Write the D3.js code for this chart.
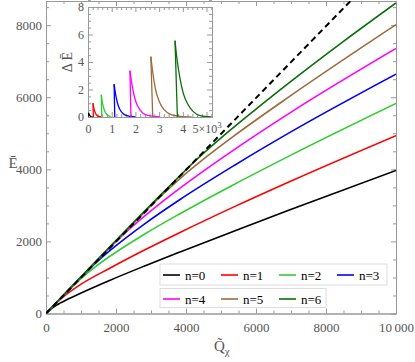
<!DOCTYPE html>
<html>
<head>
<meta charset="utf-8">
<script src="https://cdn.jsdelivr.net/npm/d3@7"></script>
<style>
  body { margin: 0; background: #fff; }
  text { font-family: "Liberation Serif", "Times New Roman", serif; }
</style>
</head>
<body>
<svg id="chart" width="415" height="362"></svg>
<script>
// main curves, [Q, E]
var n0 = [[0,0],[50,50],[200,167],[400,287],[895,520],[1848,930],[2800,1311],[3829,1707],[5400,2296],[6971,2877],[10000,3967]];
var n1 = [[0,0],[210,210],[450,426],[895,746],[1848,1270],[2800,1755],[3829,2249],[5400,2972],[6971,3663],[10000,4935]];
var n2 = [[0,0],[560,560],[1000,969],[1400,1289],[1848,1603],[2800,2193],[3829,2769],[5400,3594],[6971,4380],[10000,5828]];
var n3 = [[0,0],[1100,1100],[1500,1472],[2000,1882],[2800,2474],[3829,3163],[5400,4121],[6971,5024],[10000,6640]];
var n4 = [[0,0],[1770,1770],[2200,2178],[2600,2526],[3200,3006],[3829,3478],[5400,4562],[6971,5567],[10000,7354]];
var n5 = [[0,0],[2650,2650],[3200,3178],[3829,3744],[4500,4281],[5400,4947],[6971,6031],[10000,8015]];
var n6 = [[0,0],[3700,3700],[4300,4270],[4971,4847],[6000,5670],[6971,6418],[8500,7549],[10000,8614]];
var dashed = [[0,0],[8730,8700]];

// inset curves, [Q, dE]
var d0 = [[0,0],[20,0.3],[60,0.15],[120,0.03],[200,0]];
var d1 = [[230,0],[210,1.0],[260,0.55],[320,0.25],[400,0.08],[550,0]];
var d2 = [[580,0],[560,1.62],[620,0.95],[700,0.45],[800,0.17],[960,0.02]];
var d3s = [[1130,0],[1100,2.38],[1180,1.5],[1280,0.8],[1420,0.35],[1600,0.12],[2000,0]];
var d4 = [[1810,0],[1770,3.37],[1860,2.3],[2000,1.2],[2200,0.5],[2450,0.15],[3040,0]];
var d5 = [[2730,0],[2650,4.39],[2720,3.4],[2850,2.0],[3000,1.15],[3200,0.55],[3500,0.18],[3900,0.04],[4370,0]];
var d6 = [[3770,0],[3670,5.55],[3740,4.39],[3880,2.81],[4020,1.72],[4230,0.87],[4440,0.39],[4730,0.1],[5200,0]];

var labels = ["n=0","n=1","n=2","n=3","n=4","n=5","n=6"];
var colors = ["#000000","#ff0000","#33cc33","#0000ff","#ff00ff","#9c6b3c","#0a6e0a"];
var mainTicksX = [0,2000,4000,6000,8000,10000];
var mainTicksY = [0,2000,4000,6000,8000];
var insetTicksX = [0,1000,2000,3000,4000,5000];
var insetTicksY = [0,2,4,6,8];

var svg = d3.select("#chart");
var frameColor = "#999", labelColor = "#555";

var x = d3.scaleLinear().domain([0,10000]).range([46,396]);
var y = d3.scaleLinear().domain([0,8670]).range([313.5,1]);

function minor(step, max, majors) {
  return d3.range(0, max + 1, step).filter(function (v) { return majors.indexOf(v) < 0; });
}

function frame(g, xs, ys, xt, yt, xm, ym, opt, fmtX, fmtY) {
  var x0 = xs.range()[0], x1 = xs.range()[1], y0 = ys.range()[0], y1 = ys.range()[1];
  var b = g.append("g").attr("transform","translate(0," + y0 + ")")
    .call(d3.axisBottom(xs).tickValues(xt).tickSize(-5).tickSizeOuter(0).tickPadding(opt.pad).tickFormat(fmtX));
  g.append("g").attr("transform","translate(0," + y0 + ")")
    .call(d3.axisBottom(xs).tickValues(xm).tickSize(-3).tickSizeOuter(0).tickFormat(""));
  var l = g.append("g").attr("transform","translate(" + x0 + ",0)")
    .call(d3.axisLeft(ys).tickValues(yt).tickSize(-5).tickSizeOuter(0).tickPadding(opt.padY).tickFormat(fmtY));
  g.append("g").attr("transform","translate(" + x0 + ",0)")
    .call(d3.axisLeft(ys).tickValues(ym).tickSize(-3).tickSizeOuter(0).tickFormat(""));
  g.append("g").attr("transform","translate(0," + y1 + ")")
    .call(d3.axisTop(xs).tickValues(xt).tickSize(-5).tickSizeOuter(0).tickFormat(""));
  g.append("g").attr("transform","translate(0," + y1 + ")")
    .call(d3.axisTop(xs).tickValues(xm).tickSize(-3).tickSizeOuter(0).tickFormat(""));
  g.append("g").attr("transform","translate(" + x1 + ",0)")
    .call(d3.axisRight(ys).tickValues(yt).tickSize(-5).tickSizeOuter(0).tickFormat(""));
  g.append("g").attr("transform","translate(" + x1 + ",0)")
    .call(d3.axisRight(ys).tickValues(ym).tickSize(-3).tickSizeOuter(0).tickFormat(""));
  g.selectAll(".domain, .tick line").attr("stroke", frameColor);
  g.selectAll(".tick text").attr("fill", labelColor).style("font-family", '"Liberation Serif", serif').style("font-size", opt.size + "px");
  return {bottom: b, left: l};
}

// main frame
var main = svg.append("g");
frame(main, x, y, mainTicksX, mainTicksY, minor(500,10000,mainTicksX), minor(500,8500,mainTicksY),
  {pad: 9, padY: 4, size: 13},
  function (d) { return d === 10000 ? "10\u2009000" : d; }, function (d) { return d; });

svg.append("clipPath").attr("id","clipMain").append("rect")
  .attr("x",46).attr("y",1).attr("width",350).attr("height",312.5);

var line = d3.line().x(function (d) { return x(d[0]); }).y(function (d) { return y(d[1]); })
  .curve(d3.curveMonotoneX);

var series = [n0,n1,n2,n3,n4,n5,n6];
var plot = svg.append("g").attr("clip-path","url(#clipMain)");
series.forEach(function (s, i) {
  plot.append("path").attr("d", line(s)).attr("fill","none")
    .attr("stroke", colors[i]).attr("stroke-width", 1.6);
});
plot.append("path").attr("d", d3.line().x(function (d) { return x(d[0]); }).y(function (d) { return y(d[1]); })(dashed))
  .attr("fill","none").attr("stroke","#000").attr("stroke-width",2).attr("stroke-dasharray","6,4");

// axis titles
svg.append("text").attr("x",13).attr("y",168).attr("text-anchor","middle")
  .attr("fill",labelColor).style("font-size","15px").text("\u0112");
var xt = svg.append("text").attr("x",214).attr("y",351).attr("fill",labelColor).style("font-size","15px");
xt.append("tspan").text("Q\u0303");
xt.append("tspan").attr("dy",4).style("font-size","11px").text("\u03c7");

// legend
var leg = svg.append("g");
leg.append("rect").attr("x",160).attr("y",264).attr("width",227).attr("height",21)
  .attr("fill","#fff").attr("stroke","#ddd");
leg.append("rect").attr("x",160).attr("y",288.5).attr("width",166).attr("height",19)
  .attr("fill","#fff").attr("stroke","#ddd");
labels.forEach(function (t, i) {
  var col = i < 4 ? i : i - 4, row = i < 4 ? 0 : 1;
  var lx = 163 + col * 58, ly = row === 0 ? 275 : 299;
  leg.append("line").attr("x1",lx).attr("x2",lx + 17).attr("y1",ly).attr("y2",ly)
    .attr("stroke",colors[i]).attr("stroke-width",1.6);
  leg.append("text").attr("x",lx + 22).attr("y",ly + 4.5).attr("fill","#000")
    .style("font-size","13px").text(t);
});

// inset
var ix = d3.scaleLinear().domain([0,5230]).range([88,212]);
var iy = d3.scaleLinear().domain([0,8]).range([117,7]);
var inset = svg.append("g");
inset.append("rect").attr("x",88).attr("y",7).attr("width",124).attr("height",110).attr("fill","#fff");
var ax = frame(inset, ix, iy, insetTicksX, insetTicksY, minor(200,5200,insetTicksX), minor(0.5,8,insetTicksY),
  {pad: 7, padY: 4, size: 12},
  function (d) { return d / 1000; }, function (d) { return d; });
ax.bottom.selectAll(".tick text").filter(function (d) { return d === 5000; })
  .each(function () {
    var t = d3.select(this).text("5\u00d710");
    t.append("tspan").attr("dy","-0.45em").style("font-size","9px").text("3");
  });

svg.append("clipPath").attr("id","clipInset").append("rect")
  .attr("x",88).attr("y",7).attr("width",124).attr("height",110);
var edge = d3.line().x(function (d) { return ix(d[0]); }).y(function (d) { return iy(d[1]); });
var decay = d3.line().x(function (d) { return ix(d[0]); }).y(function (d) { return iy(d[1]); })
  .curve(d3.curveMonotoneX);
var ipl = svg.append("g").attr("clip-path","url(#clipInset)");
[d0,d1,d2,d3s,d4,d5,d6].forEach(function (s, i) {
  ipl.append("path").attr("d", edge([s[0],s[1]]))
    .attr("fill","none").attr("stroke",colors[i]).attr("stroke-width",1.3);
  ipl.append("path").attr("d", decay(s.slice(1)))
    .attr("fill","none").attr("stroke",colors[i]).attr("stroke-width",1.3);
});

svg.append("text").attr("transform","translate(72,62) rotate(-90)").attr("text-anchor","middle")
  .attr("fill",labelColor).style("font-size","14px").text("\u0394 \u0112");
</script>
</body>
</html>
